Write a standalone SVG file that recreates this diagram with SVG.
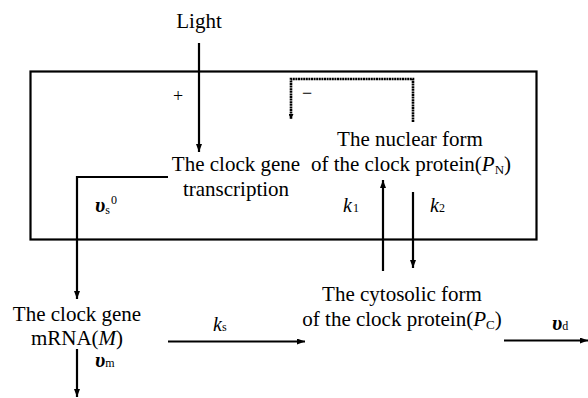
<svg xmlns="http://www.w3.org/2000/svg" width="588" height="398" viewBox="0 0 588 398">
<defs>
<marker id="ah" markerWidth="8" markerHeight="6" refX="8" refY="3" orient="auto" markerUnits="userSpaceOnUse"><path d="M0,0 L8,3 L0,6 z" fill="#000"/></marker>
<marker id="ahs" markerWidth="5" markerHeight="5" refX="5" refY="2.5" orient="auto" markerUnits="userSpaceOnUse"><path d="M0,0 L5,2.5 L0,5 z" fill="#000"/></marker>
<style>
text{font-family:"Liberation Serif","Times New Roman",serif;fill:#000}
.t{font-size:21px;text-anchor:middle}
.l{stroke:#000;stroke-width:2.2;fill:none}
.d{stroke:#000;stroke-width:2.6;fill:none;stroke-dasharray:2 0.6}
.k{font-size:20px;font-style:italic}
.v{font-size:21px;font-style:italic;font-weight:bold}
.sb{font-size:12px;font-style:normal;font-weight:normal}
.sg{font-size:18px}
</style>
</defs>
<g id="box"><rect x="30.5" y="71.5" width="506" height="168" class="l"/></g>
<g id="light"><text class="t" x="199" y="28">Light</text></g>
<g id="transcription"><text class="t" x="236" y="171">The clock gene</text><text class="t" x="236" y="196">transcription</text></g>
<g id="nuclear"><text class="t" x="410" y="146">The nuclear form</text><text class="t" x="411" y="171">of the clock protein(<tspan font-style="italic">P</tspan><tspan font-size="13" dy="3">N</tspan><tspan dy="-3">)</tspan></text></g>
<g id="cytosolic"><text class="t" x="402" y="301">The cytosolic form</text><text class="t" x="402" y="326">of the clock protein(<tspan font-style="italic">P</tspan><tspan font-size="13" dy="3">C</tspan><tspan dy="-3">)</tspan></text></g>
<g id="mrna"><text class="t" x="77" y="321">The clock gene</text><text class="t" x="77" y="345">mRNA(<tspan font-style="italic">M</tspan>)</text></g>
<g id="connectors">
<line x1="199" y1="43" x2="199" y2="152" class="l" marker-end="url(#ah)"/>
<polyline points="168,177 77,177 77,299" class="l" marker-end="url(#ah)"/>
<line x1="77" y1="349" x2="77" y2="397" class="l" marker-end="url(#ah)"/>
<line x1="168" y1="341.5" x2="305" y2="341.5" class="l" marker-end="url(#ah)"/>
<line x1="504" y1="340.5" x2="588" y2="340.5" class="l" marker-end="url(#ah)"/>
<line x1="383" y1="271" x2="383" y2="180" class="l" marker-end="url(#ah)"/>
<line x1="413" y1="192" x2="413" y2="268" class="l" marker-end="url(#ah)"/>
<polyline points="413,122 413,79 291,79 291,119" class="d" marker-end="url(#ahs)"/>
</g>
<g id="labels">
<text class="sg" x="173" y="102">+</text>
<text class="sg" x="302" y="99">−</text>
<text class="v" x="95" y="212">υ<tspan class="sb" dy="2">s</tspan></text>
<text class="sb" x="111" y="204">0</text>
<text class="k" x="343" y="212">k<tspan class="sb" dx="1">1</tspan></text>
<text class="k" x="430" y="212">k<tspan class="sb">2</tspan></text>
<text class="k" x="213" y="331">k<tspan class="sb">s</tspan></text>
<text class="v" x="552" y="330">υ<tspan class="sb">d</tspan></text>
<text class="v" x="95" y="367">υ<tspan class="sb">m</tspan></text>
</g>
</svg>
